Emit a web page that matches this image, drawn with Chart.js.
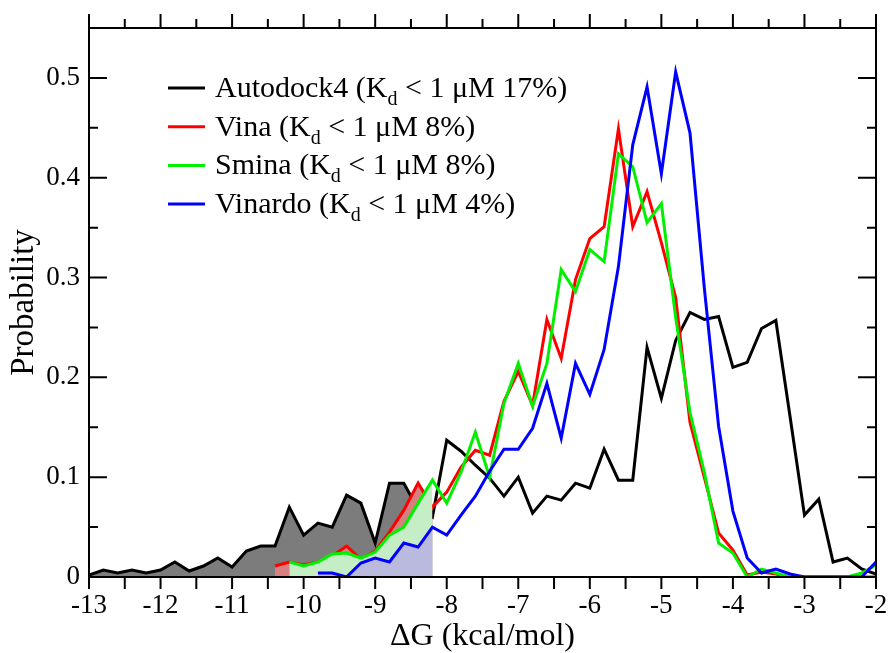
<!DOCTYPE html>
<html>
<head>
<meta charset="utf-8">
<script src="https://cdn.jsdelivr.net/npm/chart.js@4.4.0/dist/chart.umd.min.js"></script>
<style>
  html, body { margin: 0; padding: 0; background: #fff; }
  #wrap { width: 889px; height: 653px; }
</style>
</head>
<body>
<div id="wrap"><canvas id="dg-chart"></canvas></div>
<script>
// binding energy bins (kcal/mol)
const dG = [-13, -12.8, -12.6, -12.4, -12.2, -12, -11.8, -11.6, -11.4, -11.2,
  -11, -10.8, -10.6, -10.4, -10.2, -10, -9.8, -9.6, -9.4, -9.2,
  -9, -8.8, -8.6, -8.4, -8.2, -8, -7.8, -7.6, -7.4, -7.2,
  -7, -6.8, -6.6, -6.4, -6.2, -6, -5.8, -5.6, -5.4, -5.2,
  -5, -4.8, -4.6, -4.4, -4.2, -4, -3.8, -3.6, -3.4, -3.2,
  -3, -2.8, -2.6, -2.4, -2.2, -2];

const autodock4 = [0.002, 0.007, 0.004, 0.007, 0.004, 0.007, 0.015, 0.006, 0.011, 0.019,
  0.010, 0.026, 0.031, 0.031, 0.070, 0.042, 0.054, 0.050, 0.082, 0.074,
  0.034, 0.094, 0.094, 0.068, 0.060, 0.137, 0.126, 0.112, 0.099, 0.081,
  0.100, 0.064, 0.081, 0.077, 0.094, 0.089, 0.128, 0.097, 0.097, 0.230,
  0.179, 0.237, 0.265, 0.258, 0.261, 0.210, 0.215, 0.249, 0.257, 0.160,
  0.062, 0.078, 0.015, 0.019, 0.008, 0.003];

const vina = [null, null, null, null, null, null, null, null, null, null,
  null, null, null, 0.011, 0.015, 0.012, 0.015, 0.021, 0.031, 0.018,
  0.026, 0.045, 0.067, 0.094, 0.070, 0.085, 0.110, 0.127, 0.122, 0.176,
  0.206, 0.172, 0.258, 0.219, 0.298, 0.339, 0.351, 0.449, 0.351, 0.386,
  0.335, 0.280, 0.155, 0.100, 0.044, 0.027, 0.002, 0.005, 0.003, 0,
  0, 0, 0, 0, 0, 0];

const smina = [null, null, null, null, null, null, null, null, null, null,
  null, null, null, null, 0.015, 0.011, 0.015, 0.023, 0.024, 0.019,
  0.025, 0.042, 0.050, 0.074, 0.097, 0.074, 0.105, 0.145, 0.100, 0.174,
  0.214, 0.171, 0.214, 0.308, 0.286, 0.328, 0.316, 0.424, 0.411, 0.355,
  0.374, 0.260, 0.165, 0.105, 0.034, 0.024, 0.000, 0.008, 0.004, 0,
  0, 0, 0, 0, 0.004, 0.012];

const vinardo = [null, null, null, null, null, null, null, null, null, null,
  null, null, null, null, null, null, 0.004, 0.004, 0.000, 0.014,
  0.019, 0.015, 0.034, 0.030, 0.050, 0.042, 0.062, 0.081, 0.106, 0.128,
  0.128, 0.149, 0.194, 0.139, 0.214, 0.183, 0.228, 0.311, 0.433, 0.491,
  0.404, 0.506, 0.445, 0.290, 0.151, 0.066, 0.019, 0.004, 0.008, 0.003,
  0, 0, 0, 0, 0, 0.015];

// Kd < 1 uM region is shaded
const kdCutoff = -8.2;

const legendNames = ["Autodock4", "Vina", "Smina", "Vinardo"];
const legendPct = ["17%", "8%", "8%", "4%"];

const xTicks = [-13, -12, -11, -10, -9, -8, -7, -6, -5, -4, -3, -2];
const xTickLabels = ["-13", "-12", "-11", "-10", "-9", "-8", "-7", "-6", "-5", "-4", "-3", "-2"];
const xTickMarks = [-13, -12.5, -12, -11.5, -11, -10.5, -10, -9.5, -9, -8.5, -8, -7.5,
  -7, -6.5, -6, -5.5, -5, -4.5, -4, -3.5, -3, -2.5, -2];
const yTicks = [0, 0.1, 0.2, 0.3, 0.4, 0.5];
const yTickLabels = ["0", "0.1", "0.2", "0.3", "0.4", "0.5"];
const yTickMarks = [0, 0.05, 0.1, 0.15, 0.2, 0.25, 0.3, 0.35, 0.4, 0.45, 0.5];

const serif = "'Liberation Serif', 'Times New Roman', serif";

const toPoints = (vals) => dG.map((x, i) => ({ x: x, y: vals[i] }));
const shadedPart = (vals) => dG.map((x, i) => ({ x: x, y: x <= kdCutoff ? vals[i] : null }));

function lineSet(label, vals, color, order) {
  return {
    label: label,
    data: toPoints(vals),
    borderColor: color,
    borderWidth: 3,
    pointRadius: 0,
    tension: 0,
    fill: false,
    order: order,
  };
}
function fillSet(vals, color, order) {
  return {
    label: "",
    data: shadedPart(vals),
    borderColor: "rgba(0,0,0,0)",
    borderWidth: 0,
    backgroundColor: color,
    pointRadius: 0,
    tension: 0,
    fill: "origin",
    order: order,
  };
}

const lineColors = ["#000000", "#ff0000", "#00f000", "#0000ff"];

// frame with inward y ticks and outward x ticks
const frameTicks = {
  id: "frameTicks",
  afterDatasetsDraw(chart) {
    const { ctx, chartArea: a } = chart;
    const sx = chart.scales.x, sy = chart.scales.y;
    ctx.save();
    ctx.strokeStyle = "#000";
    ctx.lineWidth = 2;
    ctx.strokeRect(a.left, a.top, a.right - a.left, a.bottom - a.top);
    ctx.beginPath();
    xTickMarks.forEach((v) => {
      const px = sx.getPixelForValue(v);
      const major = xTicks.includes(v);
      ctx.moveTo(px, a.bottom);
      ctx.lineTo(px, a.bottom + 12);
      ctx.moveTo(px, a.top);
      ctx.lineTo(px, a.top - (major ? 14 : 9));
    });
    yTickMarks.forEach((v, i) => {
      const py = sy.getPixelForValue(v);
      const len = i % 2 === 0 ? 18 : 9;
      ctx.moveTo(a.left, py);
      ctx.lineTo(a.left + len, py);
      ctx.moveTo(a.right, py);
      ctx.lineTo(a.right - len, py);
    });
    ctx.stroke();
    ctx.restore();
  },
};

// legend with subscript d in Kd
const kdLegend = {
  id: "kdLegend",
  afterDraw(chart) {
    const { ctx, chartArea: a } = chart;
    ctx.save();
    legendNames.forEach((name, i) => {
      const ly = a.top + 60 + i * 38.7;
      ctx.strokeStyle = lineColors[i];
      ctx.lineWidth = 3;
      ctx.beginPath();
      ctx.moveTo(a.left + 79, ly);
      ctx.lineTo(a.left + 116, ly);
      ctx.stroke();

      let tx = a.left + 126;
      const by = ly + 9;
      ctx.fillStyle = "#000";
      ctx.textBaseline = "alphabetic";
      ctx.font = "30px " + serif;
      const head = name + " (K";
      ctx.fillText(head, tx, by);
      tx += ctx.measureText(head).width;
      ctx.font = "20px " + serif;
      ctx.fillText("d", tx, by + 8);
      tx += ctx.measureText("d").width;
      ctx.font = "30px " + serif;
      ctx.fillText(" < 1 \u03bcM " + legendPct[i] + ")", tx, by);
    });
    ctx.restore();
  },
};

const ctx = document.getElementById("dg-chart").getContext("2d");
const dgChart = new Chart(ctx, {
  type: "line",
  data: {
    datasets: [
      lineSet(legendNames[3], vinardo, lineColors[3], 0),
      fillSet(vinardo, "rgb(186,186,222)", 1),
      lineSet(legendNames[2], smina, lineColors[2], 2),
      fillSet(smina, "rgb(198,238,198)", 3),
      lineSet(legendNames[1], vina, lineColors[1], 4),
      fillSet(vina, "rgb(214,128,128)", 5),
      lineSet(legendNames[0], autodock4, lineColors[0], 6),
      fillSet(autodock4, "rgb(124,124,124)", 7),
    ],
  },
  options: {
    responsive: true,
    maintainAspectRatio: false,
    animation: false,
    layout: { padding: { top: 28, right: 13, left: 0, bottom: 0 } },
    plugins: {
      legend: { display: false },
      tooltip: { enabled: false },
    },
    scales: {
      x: {
        type: "linear",
        min: -13,
        max: -2,
        grid: { display: false, drawTicks: false },
        border: { display: false },
        afterBuildTicks: (s) => {
          s.ticks = xTicks.map((v) => ({ value: v }));
        },
        afterFit: (s) => {
          s.height = 76;
          s.paddingLeft = 0;
          s.paddingRight = 0;
        },
        ticks: {
          callback: (v, i) => xTickLabels[i],
          color: "#000",
          font: { family: serif, size: 27 },
          padding: 13,
          maxRotation: 0,
          autoSkip: false,
        },
        title: {
          display: true,
          text: "\u0394G (kcal/mol)",
          color: "#000",
          font: { family: serif, size: 32, lineHeight: 1 },
          padding: 0,
        },
      },
      y: {
        min: 0,
        max: 0.55,
        grid: { display: false, drawTicks: false },
        border: { display: false },
        afterBuildTicks: (s) => {
          s.ticks = yTicks.map((v) => ({ value: v }));
        },
        afterFit: (s) => {
          s.width = 89;
        },
        ticks: {
          callback: (v, i) => yTickLabels[i],
          color: "#000",
          font: { family: serif, size: 27 },
          padding: 9,
        },
        title: {
          display: true,
          text: "Probability",
          color: "#000",
          font: { family: serif, size: 33, lineHeight: 1.2 },
          padding: { top: 5, bottom: 0 },
        },
      },
    },
  },
  plugins: [frameTicks, kdLegend],
});
</script>
</body>
</html>
